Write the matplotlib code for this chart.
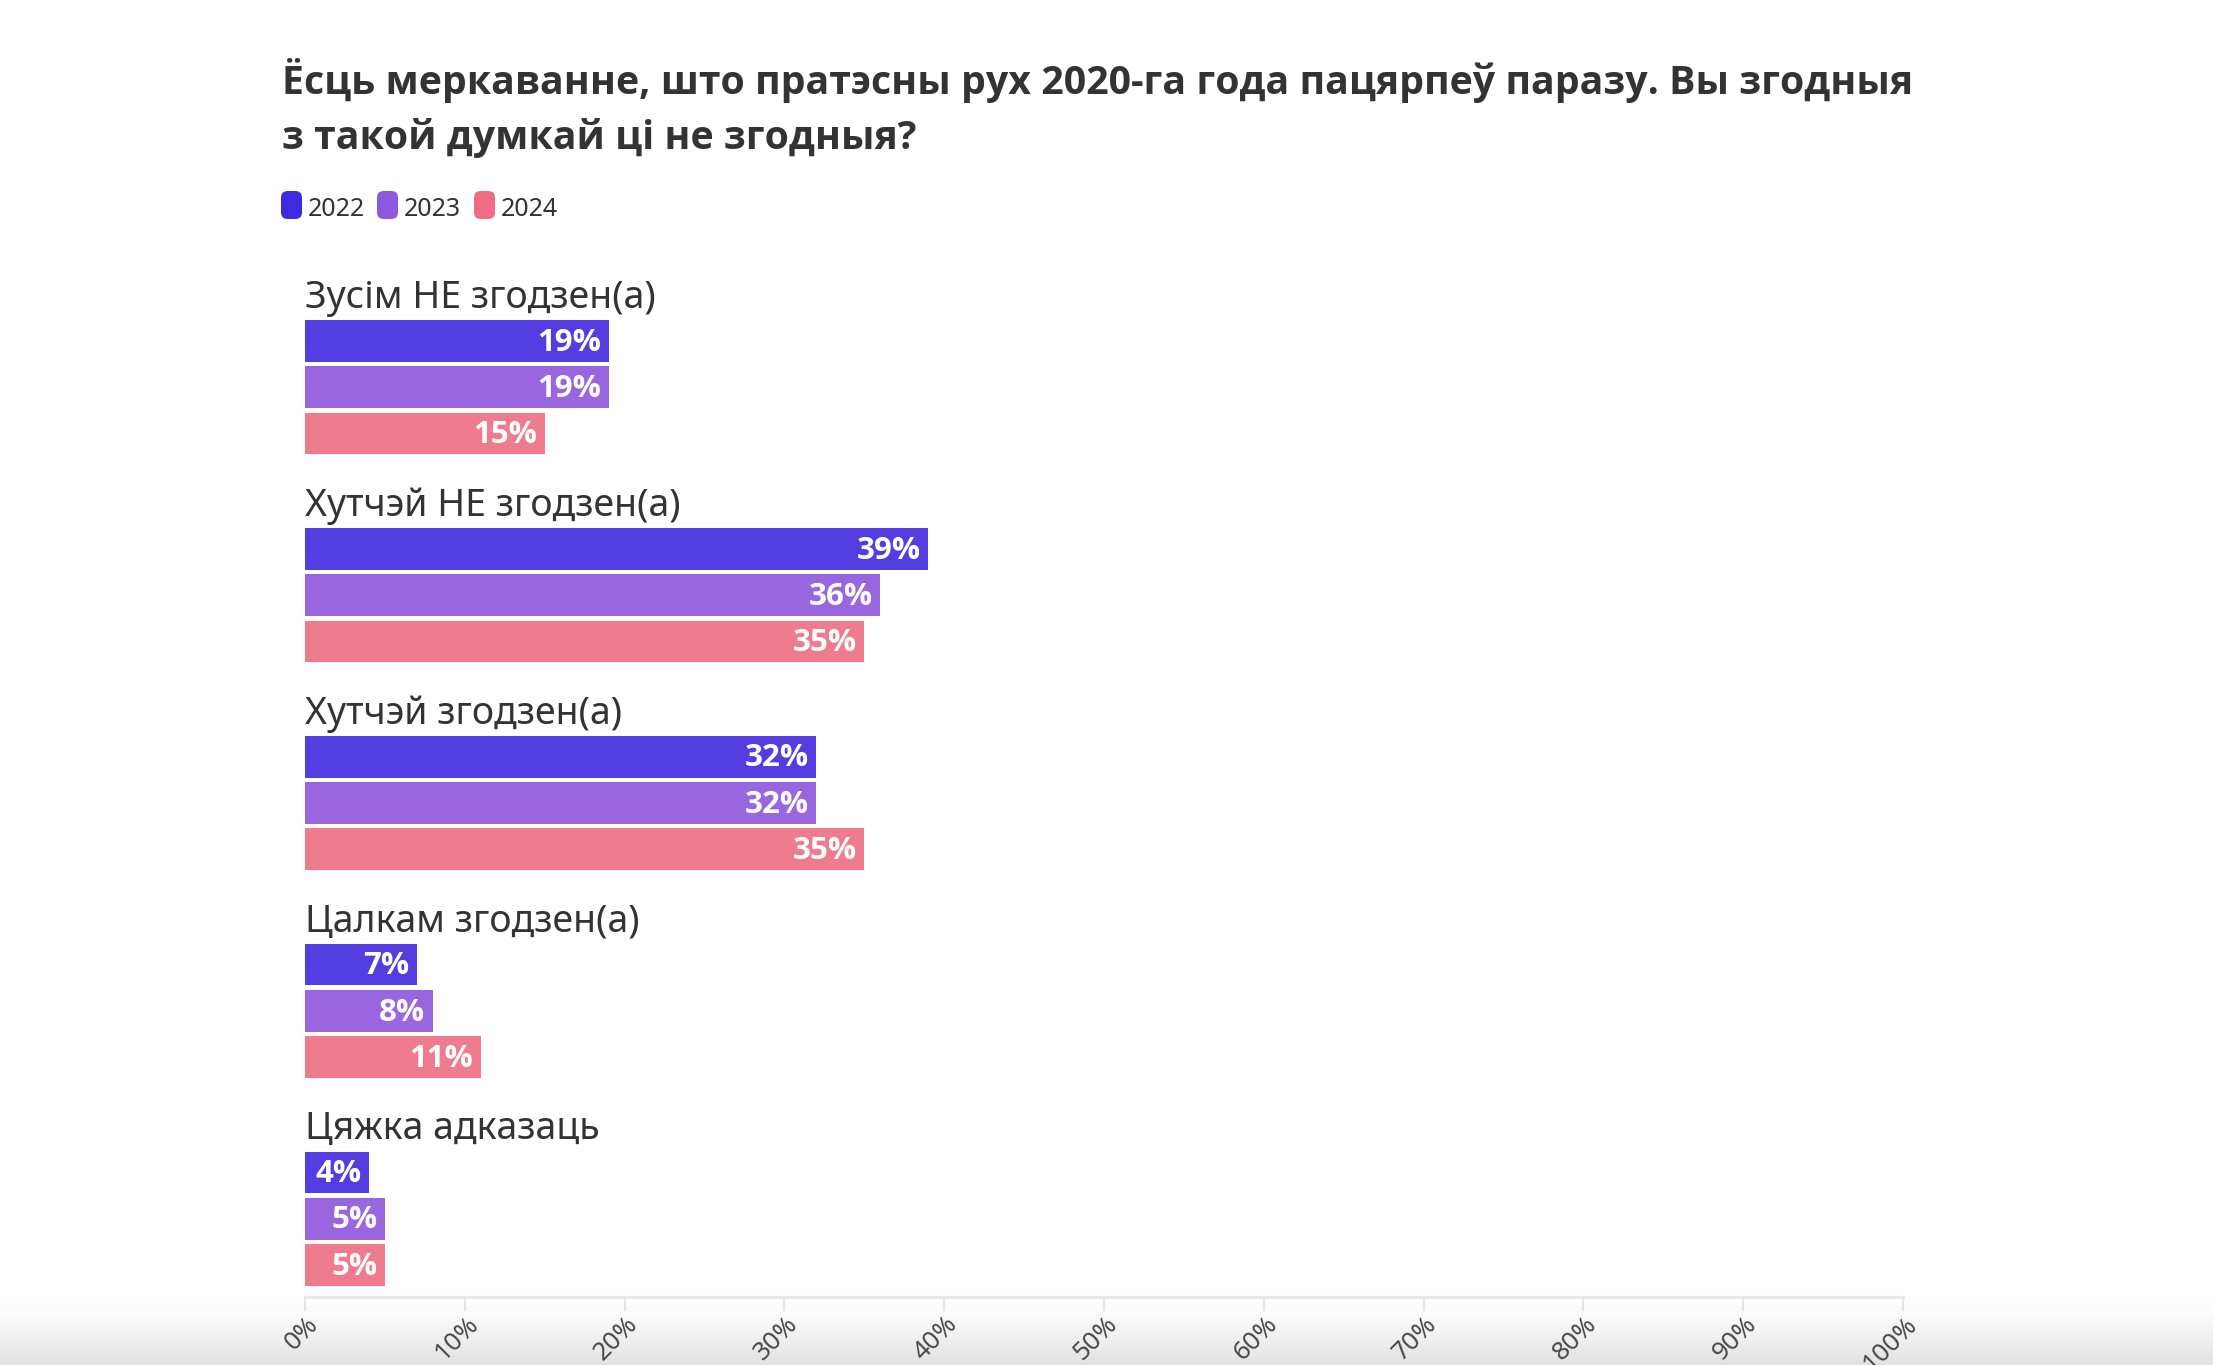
import numpy as np
import matplotlib
matplotlib.use('Agg')
import matplotlib.pyplot as plt
from matplotlib.patches import FancyBboxPatch
from matplotlib.transforms import ScaledTranslation

plt.rcParams['font.family'] = ['Noto Sans', 'DejaVu Sans']
BOLD = ['Open Sans', 'DejaVu Sans']

# data
title_lines = ['Ёсць меркаванне, што пратэсны рух 2020-га года пацярпеў паразу. Вы згодныя',
               'з такой думкай ці не згодныя?']
categories = ['Зусім НЕ згодзен(а)', 'Хутчэй НЕ згодзен(а)', 'Хутчэй згодзен(а)',
              'Цалкам згодзен(а)', 'Цяжка адказаць']
years = ['2022', '2023', '2024']
values_2022 = [19, 39, 32, 7, 4]
values_2023 = [19, 36, 32, 8, 5]
values_2024 = [15, 35, 35, 11, 5]
ticks = list(range(0, 101, 10))
tick_labels = [f'{t}%' for t in ticks]

bar_colors = ['#523ee0', '#9966df', '#ef7b8e']
legend_colors = ['#3f2ade', '#8d58de', '#ef6c82']
text_color = '#333333'

W, H = 2213, 1365
fig = plt.figure(figsize=(W / 100, H / 100), dpi=100)
fig.patch.set_facecolor('white')

# grey shade along the bottom edge
gax = fig.add_axes([0, 0, 1, 72 / H], zorder=0)
t = np.linspace(0, 1, 200) ** 1.5
grad = (255 - 30 * t)[:, None] / 255
gax.imshow(np.repeat(grad[:, :, None], 3, axis=2), aspect='auto', extent=[0, 1, 0, 1],
           origin='upper', interpolation='bilinear')
gax.set_axis_off()

# main axes: y unit = bar pitch (46.2 px)
pitch = 46.2
top_px, bottom_px, first_px = 260, 1297, 341
ax = fig.add_axes([305 / W, 1 - bottom_px / H, 1598 / W, (bottom_px - top_px) / H], zorder=1)
ax.patch.set_alpha(0)
ax.set_xlim(0, 100)
ax.set_ylim((bottom_px - first_px) / pitch, (top_px - first_px) / pitch)

group_step = 4.5
series = [values_2022, values_2023, values_2024]
for i, cat in enumerate(categories):
    base = i * group_step
    ax.text(0, base - 0.72, cat, ha='left', va='baseline', fontsize=27, color=text_color)
    for j, vals in enumerate(series):
        y = base + j
        ax.barh(y, vals[i], height=0.9, color=bar_colors[j], edgecolor='none')
        ax.annotate(f'{vals[i]}%', xy=(vals[i], y), xytext=(-5.5, -1.2), textcoords='offset points',
                    ha='right', va='center', fontsize=22.5, fontweight='bold', family=BOLD,
                    color='white')

for s in ['top', 'right', 'left']:
    ax.spines[s].set_visible(False)
ax.spines['bottom'].set_color('#e8e8e8')
ax.spines['bottom'].set_linewidth(2.2)
ax.set_yticks([])
ax.set_xticks(ticks)
ax.set_xticklabels(tick_labels, rotation=45, ha='right', va='center', rotation_mode='anchor',
                   fontsize=18.5, color='#484848')
ax.tick_params(axis='x', length=10, width=1.5, color='#e6e6e6', pad=7)
shift = ScaledTranslation(10 / 100, 0, fig.dpi_scale_trans)
for lab in ax.get_xticklabels():
    lab.set_transform(lab.get_transform() + shift)

# title
for k, line in enumerate(title_lines):
    fig.text(282 / W, 1 - (94 + 55 * k) / H, line, ha='left', va='baseline',
             fontsize=28.3, fontweight='bold', family=BOLD, color=text_color)

# legend
leg_x = [281, 377, 474]
for x, lab, col in zip(leg_x, years, legend_colors):
    fig.patches.append(FancyBboxPatch((x / W, 1 - 219 / H), 21 / W, 28 / H,
                                      boxstyle='round,pad=0,rounding_size=0.003',
                                      transform=fig.transFigure, facecolor=col,
                                      edgecolor='none', mutation_aspect=W / H))
    fig.text((x + 27) / W, 1 - 216 / H, lab, ha='left', va='baseline', fontsize=18, color=text_color)

fig.savefig('out.png', dpi=100)
